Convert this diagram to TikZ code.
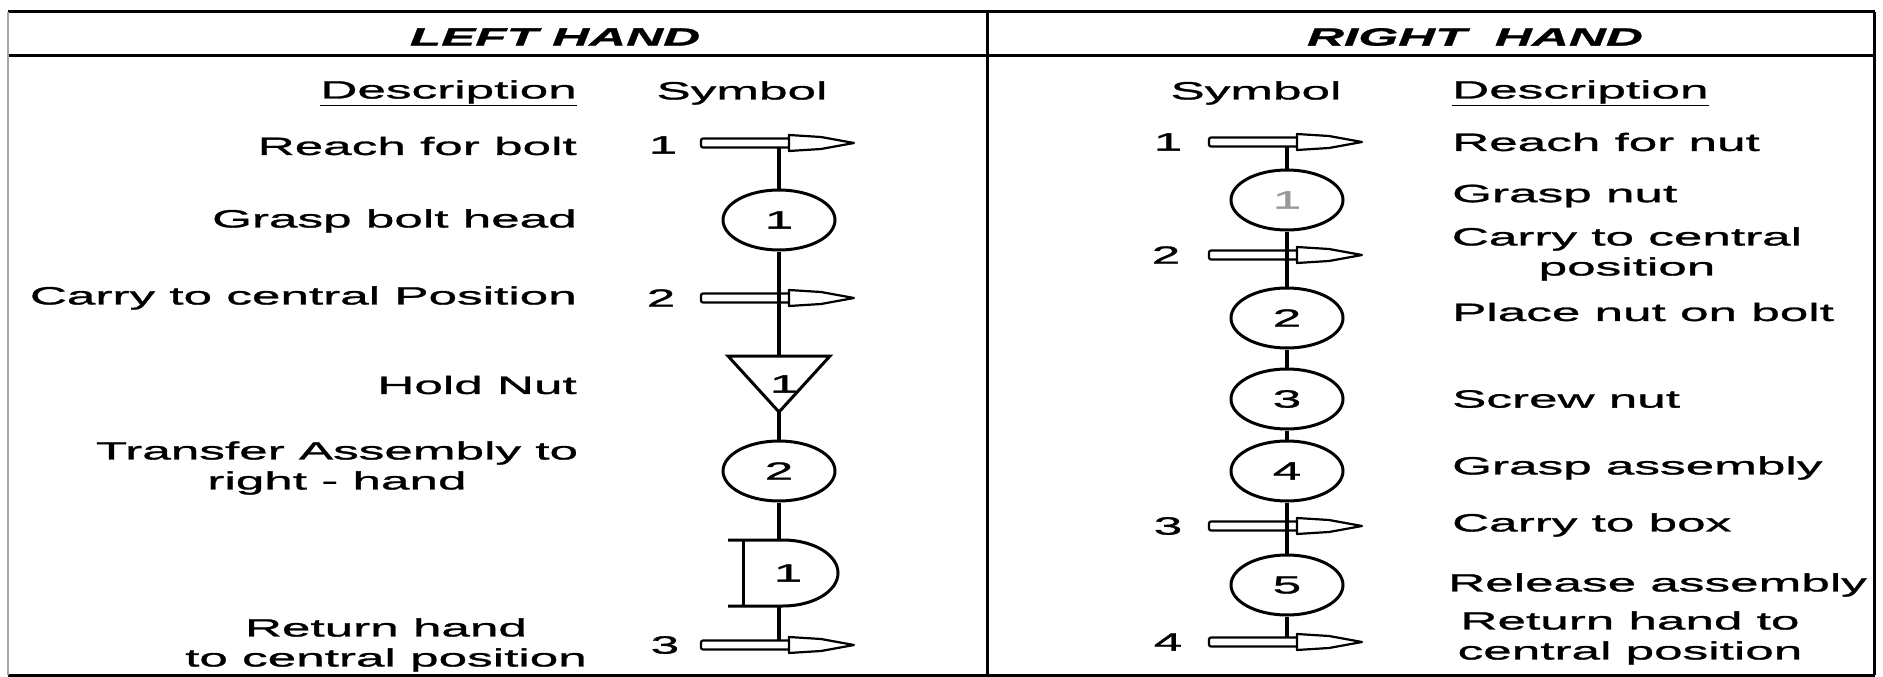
\documentclass[tikz,border=0pt]{standalone}
\usepackage{fontspec}
\setmainfont{Liberation Sans}[FakeStretch=2.05,FakeBold=1.2]
\usetikzlibrary{shapes.geometric}
\tikzset{
  tarrow/.pic={
    \draw[line width=2.2pt, rounded corners=2pt] (-78,-4.5) rectangle (16,4.5);
    \draw[line width=2.2pt, fill=white, line join=round] (10,-8) -- (42,-6) -- (75,0) -- (42,6) -- (10,8) -- cycle;
  }
}
\begin{document}
\begin{tikzpicture}[x=1pt,y=-1pt,
  every node/.style={font=\fontsize{25}{30}\selectfont, inner sep=0pt},
  frame/.style={line width=3pt},
  conn/.style={line width=3.4pt},
  symb/.style={draw, line width=3pt, ellipse, minimum width=112pt, minimum height=60pt},
  shp/.style={line width=3pt},
  desc/.style={align=center},
  hdr/.style={font=\fontsize{25}{30}\selectfont\bfseries\itshape}
]
\useasboundingbox (0,0) rectangle (1883,677);
\fill[white] (0,0) rectangle (1883,677);
% frame
\draw[frame] (8,12) -- (1875,12);
\draw[frame] (8,56) -- (1875,56);
\draw[frame] (8,675) -- (1875,675);
\draw[frame] (987,12) -- (987,675);
\draw[frame] (1874,12) -- (1874,675);
\draw[line width=1.5pt, black!35] (8,12) -- (8,675);
% headers
\node[hdr] (lhead) at (555,37) {LEFT HAND};
\node[hdr] (rhead) at (1475,37) {RIGHT\ \ HAND};
\node[anchor=east] (ldesch) at (577,93) {\underline{Description}};
\node (lsymh) at (742,93) {Symbol};
\node (rsymh) at (1256,93) {Symbol};
\node[anchor=west] (rdesch) at (1452,93) {\underline{Description}};
% ---------------- LEFT HAND ----------------
\coordinate (la1) at (779,143);
\coordinate (la2) at (779,298);
\coordinate (la3) at (779,645);
\pic at (la1) {tarrow};
\pic at (la2) {tarrow};
\pic at (la3) {tarrow};
\node (ln1) at (663,145) {1};
\node (ln2) at (661,298) {2};
\node (ln3) at (665,645) {3};
\node[symb] (lc1) at (779,220) {1};
\coordinate (lt1) at (779,356);
\coordinate (lt1tip) at (779,412);
\draw[shp, line join=miter] ([xshift=-51pt]lt1) -- ([xshift=51pt]lt1) -- (lt1tip) -- cycle;
\node (lt1num) at (784,384) {1};
\node[symb] (lc2) at (779,471) {2};
\coordinate (ld1) at (779,540);
\coordinate (ld1b) at (779,606);
\draw[shp] (728,540) -- (783,540) arc[start angle=90,end angle=-90,x radius=55pt,y radius=33pt] -- (728,606);
\draw[shp] (743,540) -- (743,606);
\node (ld1num) at (788,573) {1};
\draw[conn] ([yshift=-4.5pt]la1) -- (lc1.north);
\draw[conn] (lc1.south) -- (lt1);
\draw[conn] (lt1tip) -- (lc2.north);
\draw[conn] (lc2.south) -- (ld1);
\draw[conn] (ld1b) -- ([yshift=4.5pt]la3);
% left descriptions
\node[anchor=east] (ld1t) at (577,146) {Reach for bolt};
\node[anchor=east] (ld2t) at (577,221) {Grasp bolt head};
\node[anchor=east] (ld3t) at (577,298) {Carry to central Position};
\node[anchor=east] (ld4t) at (577,385) {Hold Nut};
\node[desc] (ld5t) at (337,468) {Transfer Assembly to\\right - hand};
\node[desc] (ld6t) at (386,645) {Return hand\\to central position};
% ---------------- RIGHT HAND ----------------
\coordinate (ra1) at (1287,142);
\coordinate (ra2) at (1287,255);
\coordinate (ra3) at (1287,526);
\coordinate (ra4) at (1287,642);
\pic at (ra1) {tarrow};
\pic at (ra2) {tarrow};
\pic at (ra3) {tarrow};
\pic at (ra4) {tarrow};
\node (rn1) at (1168,142) {1};
\node (rn2) at (1166,255) {2};
\node (rn3) at (1168,526) {3};
\node (rn4) at (1168,642) {4};
\node[symb] (rc1) at (1287,200) {\textcolor{black!40}{1}};
\node[symb] (rc2) at (1287,318) {2};
\node[symb] (rc3) at (1287,399) {3};
\node[symb] (rc4) at (1287,471) {4};
\node[symb] (rc5) at (1287,585) {5};
\draw[conn] ([yshift=-4.5pt]ra1) -- (rc1.north);
\draw[conn] (rc1.south) -- (rc2.north);
\draw[conn] (rc2.south) -- (rc3.north);
\draw[conn] (rc3.south) -- (rc4.north);
\draw[conn] (rc4.south) -- (rc5.north);
\draw[conn] (rc5.south) -- ([yshift=4.5pt]ra4);
% right descriptions
\node[anchor=west] (rd1t) at (1452,142) {Reach for nut};
\node[anchor=west] (rd2t) at (1452,196) {Grasp nut};
\node[desc] (rd3t) at (1627,254) {Carry to central\\position};
\node[anchor=west] (rd4t) at (1452,312) {Place nut on bolt};
\node[anchor=west] (rd5t) at (1452,399) {Screw nut};
\node[anchor=west] (rd6t) at (1452,468) {Grasp assembly};
\node[anchor=west] (rd7t) at (1452,525) {Carry to box};
\node[anchor=west] (rd8t) at (1448,585) {Release assembly};
\node[desc] (rd9t) at (1630,638) {Return hand to\\central position};
\end{tikzpicture}
\end{document}
